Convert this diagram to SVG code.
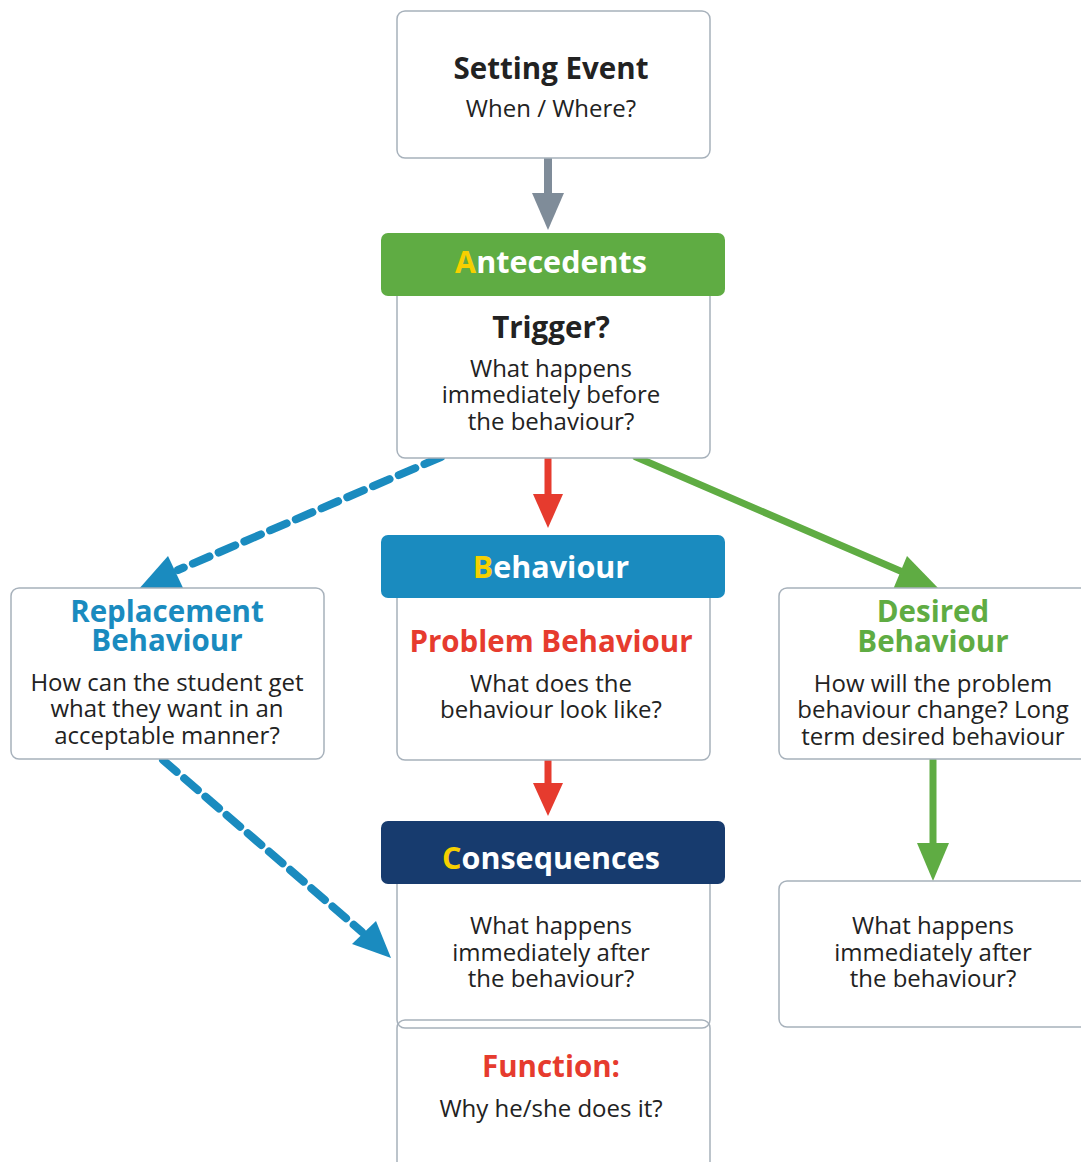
<svg xmlns="http://www.w3.org/2000/svg" width="1081" height="1162" viewBox="0 0 1081 1162">
<style>
text{font-family:"Open Sans","Noto Sans","Liberation Sans",sans-serif;text-anchor:middle;fill:#222}
.box{fill:#fff;stroke:#a7b1bb;stroke-width:1.5}
.t{font-size:29.5px;font-weight:700}
.hd{font-size:30.5px;font-weight:700;fill:#fff}
.y{fill:#f6d000}
.b{font-size:24px;font-weight:500}
</style>
<rect width="1081" height="1162" fill="#fff"/>
<g id="connectors">
<line x1="548" y1="158" x2="548" y2="200" stroke="#7f8c99" stroke-width="8"/>
<polygon points="532,193 564,193 548,230" fill="#7f8c99"/>
<line x1="548" y1="455" x2="548" y2="500" stroke="#e63b2e" stroke-width="7" stroke-linecap="round"/>
<polygon points="533,494 563,494 548,528" fill="#e63b2e"/>
<line x1="548" y1="754" x2="548" y2="790" stroke="#e63b2e" stroke-width="7" stroke-linecap="round"/>
<polygon points="533,783 563,783 548,816" fill="#e63b2e"/>
<line x1="933" y1="760" x2="933" y2="850" stroke="#5fac43" stroke-width="7" stroke-linecap="round"/>
<polygon points="917,843 949,843 933,881" fill="#5fac43"/>
<line x1="636" y1="457" x2="905" y2="573" stroke="#5fac43" stroke-width="7" stroke-linecap="round"/>
<polygon points="907,556 940,590 892,592" fill="#5fac43"/>
<line x1="441" y1="457" x2="178" y2="570" stroke="#1a8bbf" stroke-width="8" stroke-dasharray="18 10" stroke-linecap="round"/>
<polygon points="168,556 184,590 138,590" fill="#1a8bbf"/>
<line x1="163" y1="760" x2="362" y2="932" stroke="#1a8bbf" stroke-width="8" stroke-dasharray="18 10" stroke-linecap="round"/>
<polygon points="376,921 391,958 352,944" fill="#1a8bbf"/>
</g>
<g id="setting-event">
<rect class="box" x="397" y="11" width="313" height="147" rx="8"/>
<text class="t" x="551" y="79">Setting Event</text>
<text class="b" x="551" y="117">When / Where?</text>
</g>
<g id="antecedents">
<rect class="box" x="397" y="280" width="313" height="178" rx="8"/>
<rect x="381" y="233" width="344" height="63" rx="7" fill="#5fac43"/>
<text class="hd" x="551" y="273"><tspan class="y">A</tspan>ntecedents</text>
<text class="t" x="551" y="338">Trigger?</text>
<text class="b" x="551" y="377">What happens</text>
<text class="b" x="551" y="403">immediately before</text>
<text class="b" x="551" y="430">the behaviour?</text>
</g>
<g id="behaviour">
<rect class="box" x="397" y="580" width="313" height="180" rx="8"/>
<rect x="381" y="535" width="344" height="63" rx="7" fill="#1a8bbf"/>
<text class="hd" x="551" y="578"><tspan class="y">B</tspan>ehaviour</text>
<text class="t" x="551" y="652" style="fill:#e63b2e">Problem Behaviour</text>
<text class="b" x="551" y="692">What does the</text>
<text class="b" x="551" y="718">behaviour look like?</text>
</g>
<g id="function">
<rect class="box" x="397" y="1020" width="313" height="160" rx="8"/>
<text class="t" x="551" y="1077" style="fill:#e63b2e">Function:</text>
<text class="b" x="551" y="1117">Why he/she does it?</text>
</g>
<g id="consequences">
<rect class="box" x="397" y="866" width="313" height="162" rx="8" style="fill:none"/>
<rect x="398" y="867" width="311" height="152" fill="#fff"/>
<rect x="381" y="821" width="344" height="63" rx="7" fill="#173b6e"/>
<text class="hd" x="551" y="869"><tspan class="y">C</tspan>onsequences</text>
<text class="b" x="551" y="934">What happens</text>
<text class="b" x="551" y="961">immediately after</text>
<text class="b" x="551" y="987">the behaviour?</text>
</g>
<g id="replacement">
<rect class="box" x="11" y="588" width="313" height="171" rx="8"/>
<text class="t" x="167" y="622" style="fill:#1a8bbf">Replacement</text>
<text class="t" x="167" y="651" style="fill:#1a8bbf">Behaviour</text>
<text class="b" x="167" y="691">How can the student get</text>
<text class="b" x="167" y="717">what they want in an</text>
<text class="b" x="167" y="744">acceptable manner?</text>
</g>
<g id="desired">
<rect class="box" x="779" y="588" width="320" height="171" rx="8"/>
<text class="t" x="933" y="622" style="fill:#5fac43">Desired</text>
<text class="t" x="933" y="652" style="fill:#5fac43">Behaviour</text>
<text class="b" x="933" y="692">How will the problem</text>
<text class="b" x="933" y="718">behaviour change? Long</text>
<text class="b" x="933" y="745">term desired behaviour</text>
</g>
<g id="desired-after">
<rect class="box" x="779" y="881" width="320" height="146" rx="8"/>
<text class="b" x="933" y="934">What happens</text>
<text class="b" x="933" y="961">immediately after</text>
<text class="b" x="933" y="987">the behaviour?</text>
</g>
</svg>
